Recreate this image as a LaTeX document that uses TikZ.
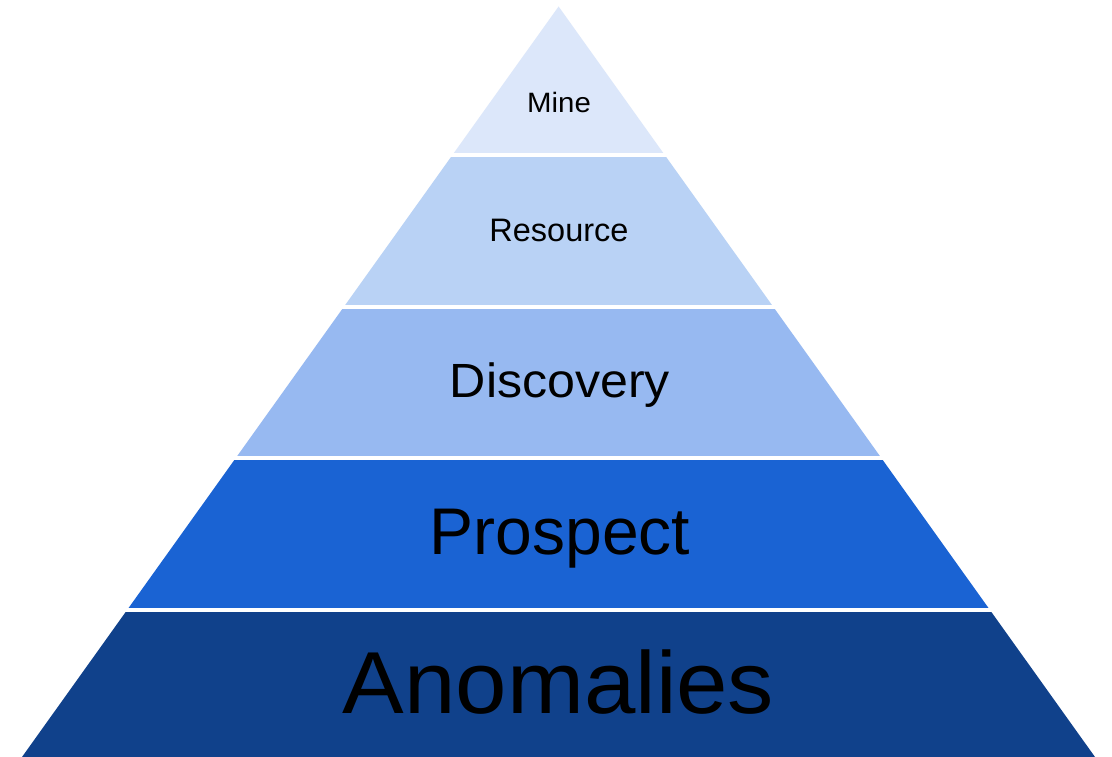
\documentclass[tikz,border=0pt]{standalone}
\usepackage{fontspec}
\setmainfont{Liberation Sans}
\definecolor{cMine}{HTML}{DCE7FA}
\definecolor{cRes}{HTML}{B9D2F5}
\definecolor{cDisc}{HTML}{97B9F1}
\definecolor{cPros}{HTML}{1A63D3}
\definecolor{cAnom}{HTML}{10418B}
\tikzset{
  lbl/.style={anchor=base, inner sep=0pt, text=black},
}
\begin{document}
\begin{tikzpicture}[x=1pt,y=-1pt]
\useasboundingbox (0,0) rectangle (1112,757);
\fill[white] (0,0) rectangle (1112,757);
\begin{scope}
  \clip (558.6,6.5) -- (1095,757) -- (22,757) -- cycle;
  \fill[cMine] (0,0) rectangle (1112,153);
  \fill[cRes]  (0,157) rectangle (1112,304.5);
  \fill[cDisc] (0,308.5) rectangle (1112,456);
  \fill[cPros] (0,460) rectangle (1112,608);
  \fill[cAnom] (0,612) rectangle (1112,757);
\end{scope}
\node[lbl, font=\fontsize{28}{28}\selectfont] (mine) at (559,113) {\scalebox{1.05}[1]{Mine}};
\node[lbl, font=\fontsize{32.5}{32.5}\selectfont] (resource) at (559,241) {Resource};
\node[lbl, font=\fontsize{48}{48}\selectfont] (discovery) at (560,397) {\scalebox{1.045}[1]{Discovery}};
\node[lbl, font=\fontsize{66}{66}\selectfont] (prospect) at (560,554) {Prospect};
\node[lbl, font=\fontsize{88}{88}\selectfont] (anomalies) at (558.5,713) {\scalebox{1.05}[1]{Anomalies}};
\end{tikzpicture}
\end{document}
